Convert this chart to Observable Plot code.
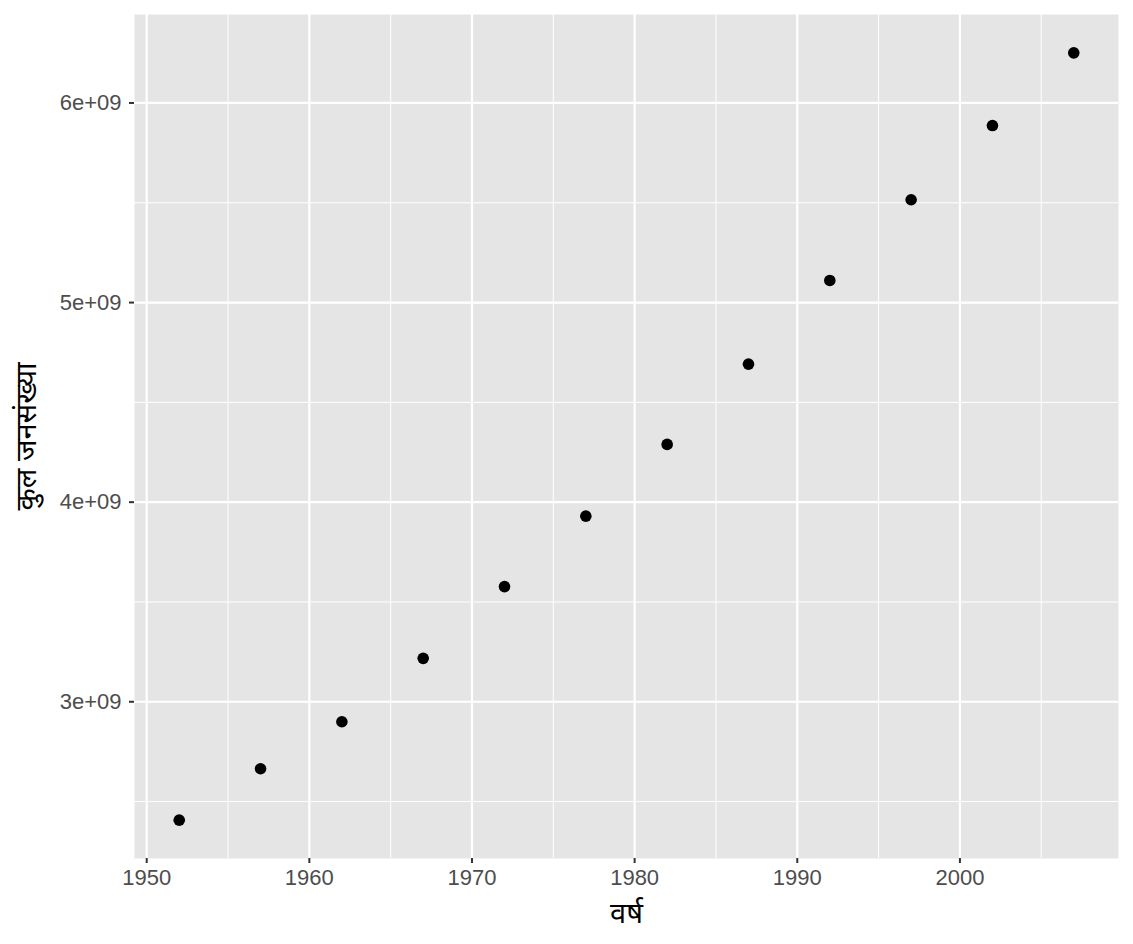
<!DOCTYPE html>
<html>
<head>
<meta charset="utf-8">
<script src="https://cdn.jsdelivr.net/npm/d3@7"></script>
<script src="https://cdn.jsdelivr.net/npm/@observablehq/plot@0.6"></script>
<style>
  html, body { margin: 0; padding: 0; background: #fff; }
  #chart svg { display: block; }
</style>
</head>
<body>
<div id="chart"></div>
<script>
const years = [1952, 1957, 1962, 1967, 1972, 1977, 1982, 1987, 1992, 1997, 2002, 2007];
const population = [2406957150, 2664404580, 2899782974, 3217478384, 3576977158, 3930045807, 4289436840, 4691477418, 5110710260, 5515204472, 5886977579, 6251013179];
const xMajor = [1950, 1960, 1970, 1980, 1990, 2000];
const xMinor = [1955, 1965, 1975, 1985, 1995, 2005];
const yMajor = [3e9, 4e9, 5e9, 6e9];
const yMinor = [2.5e9, 3.5e9, 4.5e9, 5.5e9];
const xTitle = "वर्ष";
const yTitle = "कुल जनसंख्या";

const data = years.map((y, i) => ({year: y, pop: population[i]}));

const xr = [d3.min(years), d3.max(years)];
const xpad = (xr[1] - xr[0]) * 0.05;
const yr = [d3.min(population), d3.max(population)];
const ypad = (yr[1] - yr[0]) * 0.05;

const chart = Plot.plot({
  width: 1133,
  height: 944,
  marginLeft: 134,
  marginRight: 15,
  marginTop: 14,
  marginBottom: 86,
  style: {fontFamily: "Liberation Sans, Arial, sans-serif", fontSize: "22px", background: "#fff"},
  x: {domain: [xr[0] - xpad, xr[1] + xpad], label: null},
  y: {domain: [yr[0] - ypad, yr[1] + ypad], label: null},
  marks: [
    Plot.frame({fill: "#e5e5e5", stroke: null}),
    Plot.gridX(xMinor, {stroke: "#fff", strokeOpacity: 1, strokeWidth: 1}),
    Plot.gridY(yMinor, {stroke: "#fff", strokeOpacity: 1, strokeWidth: 1}),
    Plot.gridX(xMajor, {stroke: "#fff", strokeOpacity: 1, strokeWidth: 2.2}),
    Plot.gridY(yMajor, {stroke: "#fff", strokeOpacity: 1, strokeWidth: 2.2}),
    Plot.axisX(xMajor, {tickSize: 5, tickPadding: 6, stroke: "#333", strokeWidth: 2, fill: "#4d4d4d", fontSize: 22, label: null,
      tickFormat: d => String(d)}),
    Plot.axisY(yMajor, {tickSize: 5, tickPadding: 8, stroke: "#333", strokeWidth: 2, fill: "#4d4d4d", fontSize: 22, label: null,
      tickFormat: d => `${d / 1e9}e+09`}),
    Plot.dot(data, {x: "year", y: "pop", r: 5.8, fill: "#000", stroke: null}),
    Plot.text([xTitle], {frameAnchor: "bottom", dy: 64, fontSize: 29, fill: "#000",
      fontFamily: "Noto Sans, Noto Sans Devanagari, sans-serif"}),
    Plot.text([yTitle], {frameAnchor: "left", dx: -108, rotate: -90, textAnchor: "middle", fontSize: 29, fill: "#000",
      fontFamily: "Noto Sans, Noto Sans Devanagari, sans-serif"})
  ]
});
document.getElementById("chart").appendChild(chart);
</script>
</body>
</html>
